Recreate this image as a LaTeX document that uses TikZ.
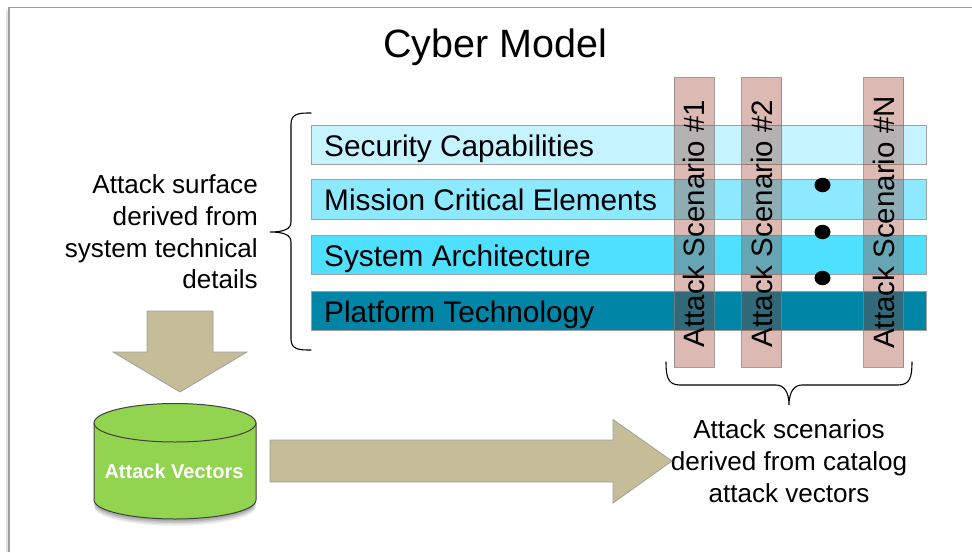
\documentclass[tikz,border=0pt]{standalone}
\usepackage{fontspec}
\setmainfont{Liberation Sans}
\usetikzlibrary{shapes.geometric}
\definecolor{barA}{HTML}{C5F3FF}
\definecolor{barB}{HTML}{8CE9FF}
\definecolor{barC}{HTML}{4FDFFF}
\definecolor{barD}{HTML}{0085A6}
\definecolor{edgeGray}{HTML}{A0A0A0}
\definecolor{scenFill}{RGB}{150,48,27}
\definecolor{khaki}{HTML}{C4BD97}
\definecolor{cylGreen}{HTML}{92D350}
\tikzset{
  layerbar/.style={draw=edgeGray,line width=1pt,minimum width=615pt,minimum height=39.5pt,
    inner xsep=0pt,inner ysep=0pt,anchor=west},
  layerlabel/.style={anchor=west,inner sep=0pt,text=black,font=\fontsize{29.8}{36}\selectfont},
  scenbar/.style={draw=gray,draw opacity=.75,line width=1pt,fill=scenFill,fill opacity=.33,
    minimum width=40pt,minimum height=289.5pt,inner sep=0pt,anchor=center},
  scenlabel/.style={rotate=90,text=black,inner sep=0pt,font=\fontsize{29.5}{35}\selectfont},
  blockarrow/.style={fill=khaki,draw=edgeGray,line width=.8pt,line join=miter},
  bodytext/.style={font=\fontsize{26.1}{31.7}\selectfont,inner sep=0pt,text=black},
  dotmark/.style={fill=black,draw=none,ellipse,minimum width=16pt,minimum height=14.5pt,inner sep=0pt},
  bracket/.style={draw=black,line width=1.1pt,line cap=round},
}
\begin{document}
\begin{tikzpicture}[x=1pt,y=-1pt]
\useasboundingbox (0,0) rectangle (972,552);
\fill[white] (0,0) rectangle (972,552);
% page frame
\fill[gray!22] (6,10) rectangle (9,552);
\draw[draw=black!38,line width=1.1pt] (9,552) -- (9,7.5) -- (972,7.5);
% title
\node[inner sep=0pt,font=\fontsize{39.5}{46}\selectfont] (title) at (495,47) {Cyber Model};
% layers
\node[layerbar,fill=barA] (sec) at (311,145.2) {};
\node[layerbar,fill=barB] (mis) at (311,199.3) {};
\node[layerbar,fill=barC] (sys) at (311,255) {};
\node[layerbar,fill=barD] (pla) at (311,311) {};
\node[layerlabel] (secl) at ([xshift=13pt,yshift=-4pt]sec.west) {Security Capabilities};
\node[layerlabel] (misl) at ([xshift=13pt,yshift=-1pt]mis.west) {Mission Critical Elements};
\node[layerlabel] (sysl) at ([xshift=13pt,yshift=-4pt]sys.west) {System Architecture};
\node[layerlabel] (plal) at ([xshift=13pt,yshift=-4pt]pla.west) {Platform Technology};
% dots
\node[dotmark] (d1) at (822.5,185) {};
\node[dotmark] (d2) at (822.5,232) {};
\node[dotmark] (d3) at (822.5,278) {};
% scenarios
\node[scenbar] (s1) at (694,222.3) {};
\node[scenbar] (s2) at (761.5,222.3) {};
\node[scenbar] (sN) at (883.5,222.3) {};
\node[scenlabel] (l1) at (694,223.5) {Attack Scenario \#1};
\node[scenlabel] (l2) at (761.5,223.5) {Attack Scenario \#2};
\node[scenlabel] (lN) at (884,222.5) {Attack Scenario \#N};
% left brace
\draw[bracket] (311,113) .. controls (300,113) and (291,113) .. (291,124)
  -- (291,222) .. controls (291,229) and (284,232) .. (270,232)
  .. controls (284,232) and (291,235) .. (291,242)
  -- (291,339) .. controls (291,350) and (300,350) .. (311,350);
% bottom brace
\draw[bracket] (666,362) .. controls (666,377) and (668,385) .. (680,385)
  -- (776,385) .. controls (784,385) and (789,392) .. (789,405)
  .. controls (789,392) and (794,385) .. (802,385)
  -- (898,385) .. controls (910,385) and (912,377) .. (912,362);
% texts
\node[bodytext,align=right,anchor=north east] (surf) at (258,174.5)
  {Attack surface\\derived from\\system technical\\details};
\node[bodytext,align=center] (scen) at (789,461)
  {Attack scenarios\\derived from catalog\\attack vectors};
% block arrows
\draw[blockarrow] (147,311) -- (213,311) -- (213,352) -- (247,352) -- (180,392) -- (113,352) -- (147,352) -- cycle;
\draw[blockarrow] (270,440) -- (613,440) -- (613,419.5) -- (672,461) -- (613,503) -- (613,482) -- (270,482) -- cycle;
% cylinder
\foreach \o/\d in {.06/7,.08/5.5,.1/4,.12/2.5}{
  \fill[black,opacity=\o] (94,500+\d) arc[start angle=180,end angle=0,x radius=81,y radius=19] -- cycle;
}
\path[fill=cylGreen,draw=black!75,line width=1pt]
  (94,423) -- (94,500) arc[start angle=180,end angle=0,x radius=81,y radius=19] -- (256,423)
  arc[start angle=0,end angle=-180,x radius=81,y radius=19.5] -- cycle;
\draw[black!75,line width=1pt] (94,423) arc[start angle=180,end angle=0,x radius=81,y radius=19];
\node[font=\bfseries\fontsize{20}{24}\selectfont,text=white,inner sep=0pt] (av) at (174,471) {Attack Vectors};
\end{tikzpicture}
\end{document}
